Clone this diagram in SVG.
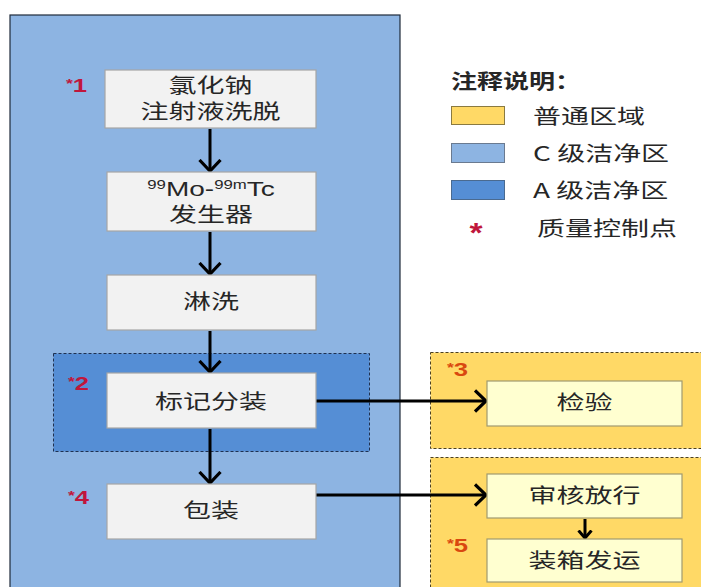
<svg xmlns="http://www.w3.org/2000/svg" width="701" height="587" viewBox="0 0 701 587">
<defs>
<style>
.t{font-family:"Noto Sans CJK SC","Liberation Sans",sans-serif;font-size:20px;fill:#262626;text-anchor:middle}
.lt{font-family:"Liberation Sans","Noto Sans CJK SC",sans-serif;font-size:20px;fill:#262626;text-anchor:middle}
.lg{font-family:"Noto Sans CJK SC","Liberation Sans",sans-serif;font-size:20px;fill:#262626}
.node{fill:#F2F2F2;stroke:#A6A6A6;stroke-width:1.2}
.ynode{fill:#FFFFD0;stroke:#A09A70;stroke-width:1.2}
.qr{font-family:"Liberation Sans",sans-serif;font-weight:bold;font-size:19px;fill:#C0163C}
.qo{font-family:"Liberation Sans",sans-serif;font-weight:bold;font-size:19px;fill:#D9480F}
.st{font-size:13px}
.ln{stroke:#000;stroke-width:3;fill:none}
</style>
<marker id="ah" markerUnits="userSpaceOnUse" viewBox="0 0 14 24" refX="12" refY="12" markerWidth="14" markerHeight="24" orient="auto">
<path d="M1,1.5 L12,12 L1,22.5" fill="none" stroke="#000" stroke-width="3.2"/>
</marker>
<marker id="ahs" markerUnits="userSpaceOnUse" viewBox="0 0 10 16" refX="8.5" refY="8" markerWidth="10" markerHeight="16" orient="auto">
<path d="M1,1.5 L8.5,8 L1,14.5" fill="none" stroke="#000" stroke-width="3"/>
</marker>
</defs>
<rect width="701" height="587" fill="#FFFFFF"/>
<g id="zone-c">
<rect x="10" y="15" width="390" height="580" fill="#8DB4E2" stroke="#1F2A3A" stroke-width="1.2"/>
</g>
<g id="zone-a">
<rect x="53.5" y="353.5" width="316" height="98" fill="#558ED5" stroke="#1F3050" stroke-width="1" stroke-dasharray="3,2"/>
</g>
<g id="zone-y1">
<rect x="430.5" y="352.5" width="280" height="96" fill="#FFD966" stroke="#4A4020" stroke-width="1" stroke-dasharray="3,2"/>
</g>
<g id="zone-y2">
<rect x="430.5" y="457.5" width="280" height="140" fill="#FFD966" stroke="#4A4020" stroke-width="1" stroke-dasharray="3,2"/>
</g>
<g id="connectors">
<line class="ln" x1="210" y1="129" x2="210" y2="171" marker-end="url(#ah)"/>
<line class="ln" x1="210" y1="232" x2="210" y2="274" marker-end="url(#ah)"/>
<line class="ln" x1="210" y1="331" x2="210" y2="372" marker-end="url(#ah)"/>
<line class="ln" x1="210" y1="429" x2="210" y2="483" marker-end="url(#ah)"/>
<line class="ln" x1="316" y1="401" x2="486" y2="401" marker-end="url(#ah)"/>
<line class="ln" x1="316" y1="495" x2="486" y2="495" marker-end="url(#ah)"/>
<line class="ln" x1="585" y1="519" x2="585" y2="538" marker-end="url(#ahs)"/>
</g>
<g id="n1">
<rect class="node" x="105" y="70" width="211" height="58"/>
<text class="t" transform="translate(210.5,93) scale(1.4,1)">氯化钠</text>
<text class="t" transform="translate(210.5,119) scale(1.4,1)">注射液洗脱</text>
<text class="qr" transform="translate(66,92) scale(1.35,1)"><tspan class="st" dy="-4">*</tspan><tspan dy="4">1</tspan></text>
</g>
<g id="n2">
<rect class="node" x="107" y="172" width="209" height="59"/>
<text class="lt" transform="translate(211,196) scale(1.4,1)"><tspan font-size="12" dy="-7">99</tspan><tspan dy="7">Mo-</tspan><tspan font-size="12" dy="-7">99m</tspan><tspan dy="7">Tc</tspan></text>
<text class="t" transform="translate(211,222) scale(1.4,1)">发生器</text>
</g>
<g id="n3">
<rect class="node" x="107" y="275" width="209" height="55"/>
<text class="t" transform="translate(211,309) scale(1.4,1)">淋洗</text>
</g>
<g id="n4">
<rect class="node" x="107" y="373" width="209" height="55"/>
<text class="t" transform="translate(211,409) scale(1.4,1)">标记分装</text>
<text class="qr" transform="translate(68,390) scale(1.35,1)"><tspan class="st" dy="-4">*</tspan><tspan dy="4">2</tspan></text>
</g>
<g id="n5">
<rect class="node" x="107" y="484" width="209" height="55"/>
<text class="t" transform="translate(211,518) scale(1.4,1)">包装</text>
<text class="qr" transform="translate(68,504) scale(1.35,1)"><tspan class="st" dy="-4">*</tspan><tspan dy="4">4</tspan></text>
</g>
<g id="n6">
<rect class="ynode" x="487" y="381" width="195" height="45"/>
<text class="t" transform="translate(584.5,410) scale(1.4,1)">检验</text>
<text class="qo" transform="translate(447,376) scale(1.35,1)"><tspan class="st" dy="-4">*</tspan><tspan dy="4">3</tspan></text>
</g>
<g id="n7">
<rect class="ynode" x="487" y="474" width="195" height="44"/>
<text class="t" transform="translate(584.5,503) scale(1.4,1)">审核放行</text>
</g>
<g id="n8">
<rect class="ynode" x="487" y="539" width="195" height="43"/>
<text class="t" transform="translate(584.5,568) scale(1.4,1)">装箱发运</text>
<text class="qo" transform="translate(447,552) scale(1.35,1)"><tspan class="st" dy="-4">*</tspan><tspan dy="4">5</tspan></text>
</g>
<g id="legend">
<text class="lg" transform="translate(451,89) scale(1.3,1)" font-weight="bold">注释说明：</text>
<rect x="451.5" y="106.5" width="53" height="18" fill="#FFD966" stroke="#8A7A40" stroke-width="1"/>
<text class="lg" transform="translate(533,124) scale(1.4,1)">普通区域</text>
<rect x="451.5" y="143.5" width="53" height="19" fill="#8DB4E2" stroke="#6A7A90" stroke-width="1"/>
<text class="lg" transform="translate(533,161) scale(1.4,1)">C 级洁净区</text>
<rect x="451.5" y="180.5" width="53" height="19" fill="#558ED5" stroke="#4A6A90" stroke-width="1"/>
<text class="lg" transform="translate(533,198) scale(1.4,1)">A 级洁净区</text>
<text x="476" y="242" font-family="Liberation Sans,sans-serif" font-weight="bold" font-size="28" fill="#C0163C" text-anchor="middle" transform="translate(476,0) scale(1.2,1) translate(-476,0)">*</text>
<text class="lg" transform="translate(537,236) scale(1.4,1)">质量控制点</text>
</g>
</svg>
